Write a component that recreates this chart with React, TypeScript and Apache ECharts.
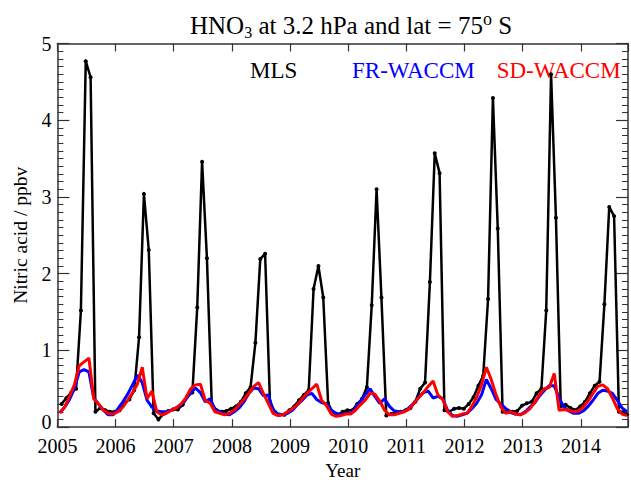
import { useEffect, useRef } from "react";
import * as echarts from "echarts";

const startYear = 2005;
const yearTicks = [2005, 2006, 2007, 2008, 2009, 2010, 2011, 2012, 2013, 2014];
const seriesNames = ["MLS", "FR-WACCM", "SD-WACCM"];
const seriesColors = ["#000000", "#0000ff", "#ff0000"];

// monthly values (ppbv), Jan 2005 .. Oct 2014
const mlsValues = [
  0.30, 0.38, 0.45, 0.50, 1.52, 4.77, 4.56, 0.20, 0.25, 0.22, 0.20, 0.20, // 2005
  0.22, 0.32, 0.36, 0.48, 1.17, 3.04, 2.31, 0.18, 0.10, 0.17, 0.21, 0.23, // 2006
  0.23, 0.29, 0.41, 0.45, 1.56, 3.46, 2.20, 0.30, 0.22, 0.20, 0.21, 0.24, // 2007
  0.27, 0.33, 0.44, 0.52, 1.10, 2.19, 2.26, 0.33, 0.20, 0.16, 0.16, 0.22, // 2008
  0.27, 0.35, 0.42, 0.48, 1.80, 2.10, 1.69, 0.31, 0.18, 0.16, 0.20, 0.22, // 2009
  0.22, 0.30, 0.37, 0.52, 1.59, 3.10, 1.69, 0.15, 0.17, 0.20, 0.20, 0.22, // 2010
  0.25, 0.33, 0.50, 0.58, 1.89, 3.57, 3.31, 0.22, 0.20, 0.24, 0.25, 0.24, // 2011
  0.30, 0.39, 0.54, 0.67, 1.67, 4.29, 2.59, 0.20, 0.22, 0.20, 0.21, 0.28, // 2012
  0.31, 0.33, 0.44, 0.50, 1.52, 4.60, 2.73, 0.27, 0.29, 0.25, 0.22, 0.27, // 2013
  0.33, 0.44, 0.54, 0.59, 1.60, 2.87, 2.75, 0.20, 0.20, 0.15,             // 2014
];

const frWaccmValues = [
  0.19, 0.26, 0.36, 0.50, 0.72, 0.75, 0.72, 0.38, 0.30, 0.22, 0.16, 0.16, // 2005
  0.24, 0.33, 0.43, 0.55, 0.68, 0.58, 0.35, 0.26, 0.21, 0.20, 0.20, 0.22, // 2006
  0.25, 0.29, 0.36, 0.45, 0.51, 0.45, 0.33, 0.37, 0.23, 0.20, 0.17, 0.16, // 2007
  0.20, 0.25, 0.33, 0.44, 0.51, 0.50, 0.41, 0.42, 0.22, 0.17, 0.16, 0.18, // 2008
  0.22, 0.29, 0.35, 0.42, 0.44, 0.36, 0.32, 0.30, 0.22, 0.18, 0.16, 0.18, // 2009
  0.18, 0.25, 0.33, 0.42, 0.50, 0.40, 0.31, 0.37, 0.27, 0.21, 0.20, 0.20, // 2010
  0.25, 0.31, 0.39, 0.45, 0.47, 0.38, 0.40, 0.37, 0.22, 0.15, 0.14, 0.16, // 2011
  0.18, 0.24, 0.31, 0.42, 0.62, 0.50, 0.36, 0.30, 0.24, 0.19, 0.17, 0.16, // 2012
  0.20, 0.26, 0.32, 0.41, 0.48, 0.54, 0.54, 0.38, 0.26, 0.21, 0.18, 0.18, // 2013
  0.21, 0.27, 0.35, 0.44, 0.48, 0.47, 0.44, 0.35, 0.25, 0.20,             // 2014
];

const sdWaccmValues = [
  0.18, 0.26, 0.40, 0.55, 0.80, 0.85, 0.90, 0.37, 0.30, 0.22, 0.18, 0.17, // 2005
  0.20, 0.26, 0.35, 0.45, 0.56, 0.78, 0.37, 0.47, 0.20, 0.16, 0.18, 0.22, // 2006
  0.25, 0.30, 0.38, 0.50, 0.55, 0.56, 0.35, 0.31, 0.20, 0.18, 0.16, 0.18, // 2007
  0.22, 0.29, 0.36, 0.44, 0.53, 0.58, 0.44, 0.31, 0.18, 0.15, 0.16, 0.20, // 2008
  0.24, 0.29, 0.37, 0.44, 0.50, 0.56, 0.35, 0.28, 0.17, 0.14, 0.15, 0.17, // 2009
  0.17, 0.22, 0.29, 0.35, 0.44, 0.43, 0.34, 0.22, 0.16, 0.16, 0.18, 0.20, // 2010
  0.23, 0.31, 0.38, 0.45, 0.53, 0.60, 0.42, 0.36, 0.20, 0.14, 0.15, 0.17, // 2011
  0.18, 0.27, 0.39, 0.55, 0.78, 0.62, 0.42, 0.26, 0.18, 0.20, 0.17, 0.16, // 2012
  0.19, 0.24, 0.32, 0.43, 0.50, 0.52, 0.70, 0.22, 0.23, 0.22, 0.20, 0.21, // 2013
  0.26, 0.34, 0.44, 0.53, 0.55, 0.50, 0.38, 0.24, 0.17, 0.15,             // 2014
];

// where inside each month the samples sit on the time axis
const mlsMonthOffset = 0.85;
const modelMonthOffset = 0.5;

const FONT = "'Liberation Serif', 'Times New Roman', serif";
const AXIS_COLOR = "#333";

function toPoints(values: number[], offset: number) {
  return values.map((v, i) => [startYear + (i + offset) / 12, v]);
}

export default function App() {
  const chartRef = useRef<HTMLDivElement>(null);

  useEffect(() => {
    if (!chartRef.current) return;
    const chart = echarts.init(chartRef.current, undefined, { renderer: "svg" });

    const xMin = yearTicks[0];
    const xMax = 2014.81;

    const baseX = {
      type: "value" as const,
      min: xMin,
      max: xMax,
      interval: 1,
      splitLine: { show: false },
      axisLine: { onZero: false, lineStyle: { color: AXIS_COLOR, width: 1.5 } },
      axisTick: { inside: true, length: 8, lineStyle: { color: AXIS_COLOR, width: 1.2 } },
    };
    const baseY = {
      type: "value" as const,
      min: 0,
      max: 5,
      interval: 1,
      splitLine: { show: false },
      axisLine: { onZero: false, lineStyle: { color: AXIS_COLOR, width: 1.5 } },
      axisTick: { inside: true, length: 12, lineStyle: { color: AXIS_COLOR, width: 1.2 } },
      minorTick: { show: true, splitNumber: 10, length: 6, lineStyle: { color: AXIS_COLOR, width: 1 } },
    };

    const option: echarts.EChartsOption = {
      animation: false,
      title: {
        text: "HNO{sub|3} at 3.2 hPa and lat = 75{sup|o} S",
        left: 190,
        top: 10,
        padding: 0,
        textStyle: {
          fontFamily: FONT,
          fontSize: 25,
          fontWeight: "normal",
          color: "#000",
          lineHeight: 30,
          rich: {
            sub: { fontFamily: FONT, fontSize: 16, lineHeight: 16, verticalAlign: "bottom", color: "#000" },
            sup: { fontFamily: FONT, fontSize: 18, lineHeight: 23, verticalAlign: "top", color: "#000" },
          },
        },
      },
      grid: { left: 57.4, right: 1.5, top: 43.5, bottom: 49 },
      xAxis: [
        {
          ...baseX,
          position: "bottom",
          name: "Year",
          nameLocation: "middle",
          nameGap: 33,
          nameTextStyle: { fontFamily: FONT, fontSize: 19, color: "#000", lineHeight: 16 },
          axisLabel: {
            fontFamily: FONT,
            fontSize: 20,
            lineHeight: 14,
            color: "#000",
            margin: 12,
            formatter: (v: number) => (Number.isInteger(v) ? String(v) : ""),
          },
        },
        { ...baseX, position: "top", axisLabel: { show: false } },
      ],
      yAxis: [
        {
          ...baseY,
          position: "left",
          name: "Nitric acid / ppbv",
          nameLocation: "middle",
          nameGap: 26,
          nameTextStyle: { fontFamily: FONT, fontSize: 19.5, color: "#000" },
          axisLabel: {
            fontFamily: FONT,
            fontSize: 20,
            lineHeight: 10,
            color: "#000",
            margin: 6,
            verticalAlignMinLabel: "bottom",
          },
        },
        { ...baseY, position: "right", axisLabel: { show: false } },
      ],
      graphic: [
        { type: "text", x: 250, y: 70.3, style: { text: seriesNames[0], fill: seriesColors[0], font: `23px ${FONT}`, verticalAlign: "middle" } },
        { type: "text", x: 352, y: 70.3, style: { text: seriesNames[1], fill: seriesColors[1], font: `23px ${FONT}`, verticalAlign: "middle" } },
        { type: "text", x: 496.7, y: 70.3, style: { text: seriesNames[2], fill: seriesColors[2], font: `23px ${FONT}`, verticalAlign: "middle" } },
      ],
      series: [
        {
          name: seriesNames[0],
          type: "line",
          data: toPoints(mlsValues, mlsMonthOffset),
          symbol: "circle",
          symbolSize: 4,
          showSymbol: true,
          itemStyle: { color: seriesColors[0] },
          lineStyle: { color: seriesColors[0], width: 2.5 },
          z: 2,
        },
        {
          name: seriesNames[1],
          type: "line",
          data: toPoints(frWaccmValues, modelMonthOffset),
          showSymbol: false,
          lineStyle: { color: seriesColors[1], width: 3 },
          z: 3,
        },
        {
          name: seriesNames[2],
          type: "line",
          data: toPoints(sdWaccmValues, modelMonthOffset),
          showSymbol: false,
          lineStyle: { color: seriesColors[2], width: 3 },
          z: 4,
        },
      ],
    };

    chart.setOption(option);

    return () => {
      chart.dispose();
    };
  }, []);

  return (
    <div
      ref={chartRef}
      style={{ position: "fixed", left: 0, top: 0, width: "631px", height: "485px", background: "#fff" }}
    />
  );
}
